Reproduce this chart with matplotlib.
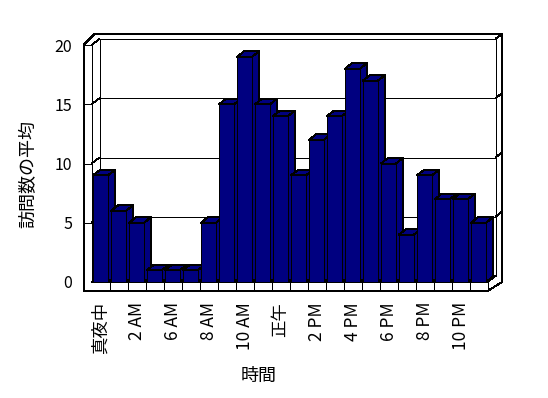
import matplotlib
matplotlib.use("Agg")
import matplotlib.pyplot as plt
from matplotlib.patches import Polygon
import numpy as np

plt.rcParams['font.family'] = ['Noto Sans CJK JP', 'DejaVu Sans']

# ---- data ----
categories = ['真夜中', '1 AM', '2 AM', '3 AM', '6 AM', '7 AM', '8 AM', '9 AM',
              '10 AM', '11 AM', '正午', '1 PM', '2 PM', '3 PM', '4 PM', '5 PM',
              '6 PM', '7 PM', '8 PM', '9 PM', '10 PM', '11 PM']
values = [9, 6, 5, 1, 1, 1, 5, 15, 19, 15, 14, 9, 12, 14, 18, 17, 10, 4, 9, 7, 7, 5]
yticks = [0, 5, 10, 15, 20]
ylabel = '訪問数の平均'
xlabel = '時間'

# ---- layout (pixels) ----
W, H = 548, 398
SX, SY = 18.0, 11.85          # px per category / px per unit
X0, Y0 = 100.5, 282.0         # px of category 0 centre / value 0
AX_L, AX_R, AX_T, AX_B = 80, 505, 30, 295

fig = plt.figure(figsize=(W / 100, H / 100), dpi=100)
ax = fig.add_axes([AX_L / W, 1 - AX_B / H, (AX_R - AX_L) / W, (AX_B - AX_T) / H])
ax.set_xlim((AX_L - X0) / SX, (AX_R - X0) / SX)
ax.set_ylim((Y0 - AX_B) / SY, (Y0 - AX_T) / SY)
for s in ax.spines.values():
    s.set_visible(False)
ax.patch.set_alpha(0)

n = len(values)
ymax = yticks[-1]
navy = '#000080'
LW = 0.72  # one pixel

# geometry offsets in data units
bw = 15 / SX
bdx, bdy = 7 / SX, 5.5 / SY
wdx, wdy = 8 / SX, 6 / SY
tdx, tdy = 6.7 / SX, 5.3 / SY
lw_ = 7.8 / SX
ft = 9 / SY
xl, xr = -0.5, n - 0.5

lk = dict(color='black', lw=LW, solid_capstyle='butt', antialiased=False)
pk = dict(closed=True, edgecolor='black', lw=LW, antialiased=False)

# outer silhouette
outer = [(xl - lw_, -ft), (xl - lw_, ymax), (xl - lw_ + 11 / SX, ymax + wdy + tdy),
         (xr + wdx + tdx, ymax + wdy + tdy), (xr + wdx + tdx, 0), (xr, -ft)]
ax.add_patch(Polygon(outer, facecolor='white', zorder=1, **pk))
# back wall front face
ax.add_patch(Polygon([(xl + wdx, wdy), (xr + wdx, wdy), (xr + wdx, ymax + wdy), (xl + wdx, ymax + wdy)],
                     facecolor='white', zorder=1.1, **pk))
for v in yticks[1:-1]:
    ax.plot([xl + wdx, xr + wdx], [v + wdy, v + wdy], zorder=1.2, **lk)
for v in yticks:
    ax.plot([xl, xl + wdx], [v, v + wdy], zorder=1.2, **lk)
    if v > 0:
        ax.plot([xl - lw_, xl], [v, v], zorder=1.2, **lk)
        ax.plot([xr + wdx, xr + wdx + tdx], [v + wdy, v + wdy + tdy], zorder=1.2, **lk)
ax.plot([xl, xl], [0, ymax], zorder=1.2, **lk)
# floor
ax.plot([xl, xr], [0, 0], zorder=1.2, **lk)
ax.plot([xr, xr], [0, -ft], zorder=1.2, **lk)
ax.plot([xr, xr + wdx], [0, wdy], zorder=1.2, **lk)
for k in range(1, n):
    ax.plot([k - 0.5, k - 0.5], [0, -ft], zorder=1.2, **lk)

# bars
x = np.arange(n)
bars = ax.bar(x, values, width=bw, color=navy, edgecolor='black', linewidth=LW)
for k, (b, v) in enumerate(zip(bars, values)):
    a, c = k - bw / 2, k + bw / 2
    z = 3 + 0.01 * k
    ax.add_patch(Polygon([(c, 0), (c, v), (c + bdx, v + bdy), (c + bdx, bdy)],
                         facecolor=navy, zorder=z, **pk))
    ax.add_patch(Polygon([(a, v), (c, v), (c + bdx, v + bdy), (a + bdx, v + bdy)],
                         facecolor=navy, zorder=z, **pk))
    b.set_zorder(z + 0.005)
    b.set_antialiased(False)

# ticks
ax.set_yticks(yticks)
ax.set_yticklabels([str(t) for t in yticks], fontsize=11.5)
ax.tick_params(axis='y', length=0, pad=(AX_L - 72) * 0.72)
shown = list(range(0, n, 2))
ax.set_xticks(shown)
ax.set_xticklabels([categories[i] for i in shown], rotation=90, fontsize=12.5)
ax.tick_params(axis='x', length=0, pad=(302 - AX_B) * 0.72)

fig.text(28 / W, 1 - 174 / H, ylabel, rotation=90, ha='center', va='center', fontsize=13)
fig.text(258.5 / W, 1 - 376 / H, xlabel, ha='center', va='center', fontsize=13)

fig.savefig('out.png', dpi=100)
